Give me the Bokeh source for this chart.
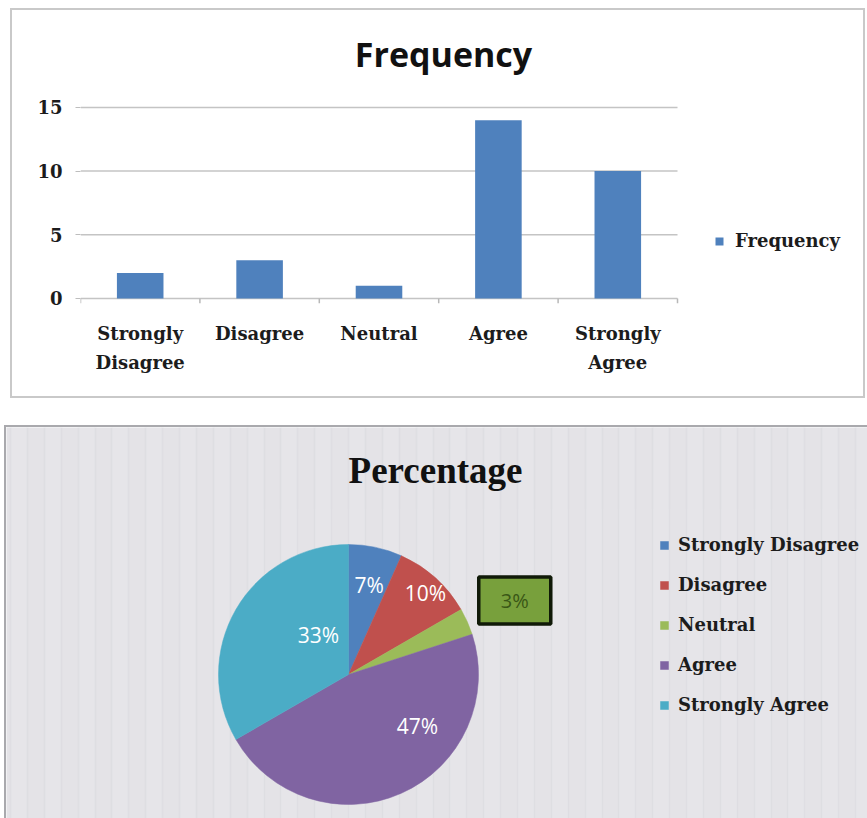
import math

from bokeh.core.properties import value
from bokeh.embed import file_html
from bokeh.models import (ColumnDataSource, FixedTicker, Grid, InlineStyleSheet,
                          Label, Legend, LegendItem, LinearAxis, Range1d,
                          SingleIntervalTicker)
from bokeh.plotting import figure
from bokeh.resources import INLINE

# ---- data -------------------------------------------------------------
categories = ["Strongly Disagree", "Disagree", "Neutral", "Agree", "Strongly Agree"]
frequency = [2, 3, 1, 14, 10]
y_ticks = [0, 5, 10, 15]
# two-line category labels: (first line, second line)
category_lines = {
    "Strongly Disagree": ("Strongly", "Disagree"),
    "Disagree": ("Disagree", ""),
    "Neutral": ("Neutral", ""),
    "Agree": ("Agree", ""),
    "Strongly Agree": ("Strongly", "Agree"),
}
slice_colors = ["#4f81bd", "#c0504d", "#9bbb59", "#8064a2", "#4bacc6"]

# placement of each percentage label: (clockwise angle from 12 o'clock in
# degrees, distance from centre as a fraction of the radius, boxed callout?)
label_placement = [(13, 0.71, False), (43.5, 0.86, False), (None, 1.40, True),
                   (126.5, 0.66, False), (323, 0.385, False)]

SERIF = "DejaVu Serif"
SANS = "Open Sans"
TEXT_DARK = "#1c1c1c"
SERIF_SIZE = "18px"

# ---- bar chart ----------------------------------------------------------
W1, H1 = 851, 386
LEFT1, BOTTOM1 = 68, 93            # room for the axes
CAT_PX = 119.4                     # width of one category slot, px
UNIT_PX = 12.733                   # px per frequency unit
n = len(categories)
centers = [i + 0.5 for i in range(n)]
frame_w = W1 - LEFT1
frame_h = H1 - BOTTOM1
y_start = -0.4

p1 = figure(x_range=Range1d(0, frame_w / CAT_PX),
            y_range=Range1d(y_start, y_start + frame_h / UNIT_PX),
            width=W1, height=H1, output_backend="svg", toolbar_location=None,
            min_border_left=LEFT1, min_border_right=0, min_border_top=0,
            min_border_bottom=BOTTOM1, background_fill_color="white",
            border_fill_color="white", outline_line_color=None)
p1.margin = (10, 4, 0, 12)
p1.stylesheets = [InlineStyleSheet(css=":host { outline: 2px solid #c9c9c9; }")]
p1.grid.visible = False

# horizontal value lines across the category area
p1.segment(x0=[0] * len(y_ticks), x1=[n] * len(y_ticks), y0=y_ticks, y1=y_ticks,
           line_color="#c4c4c4", line_width=1.5)
# category boundary tick marks under the zero line
bounds = list(range(n + 1))
p1.segment(x0=bounds, y0=[0] * len(bounds), x1=bounds, y1=[y_start] * len(bounds),
           line_color="#b8b8b8", line_width=1.5)

bars = p1.vbar(x=centers, top=frequency, width=0.39,
               fill_color="#4f81bd", line_color=None)

ya = p1.yaxis[0]
ya.ticker = FixedTicker(ticks=y_ticks)
ya.axis_line_color = None
ya.major_tick_line_color = "#bdbdbd"
ya.major_tick_out = 5
ya.major_tick_in = 0
ya.minor_tick_line_color = None
ya.major_label_standoff = 13
ya.major_label_text_font = SERIF
ya.major_label_text_font_style = "bold"
ya.major_label_text_font_size = SERIF_SIZE
ya.major_label_text_color = TEXT_DARK


def style_cat_axis(ax, line_no, standoff):
    ax.ticker = FixedTicker(ticks=centers)
    ax.major_label_overrides = {c: category_lines[cat][line_no]
                                for c, cat in zip(centers, categories)}
    ax.axis_line_color = None
    ax.major_tick_line_color = None
    ax.minor_tick_line_color = None
    ax.major_tick_out = 0
    ax.major_tick_in = 0
    ax.major_label_standoff = standoff
    ax.major_label_text_font = SERIF
    ax.major_label_text_font_style = "bold"
    ax.major_label_text_font_size = SERIF_SIZE
    ax.major_label_text_color = TEXT_DARK


style_cat_axis(p1.xaxis[0], 0, 19)
second_line = LinearAxis()
style_cat_axis(second_line, 1, 5)
p1.add_layout(second_line, "below")

p1.add_layout(Label(x=363, y=250, x_units="screen", y_units="screen",
                    text="Frequency", text_font=SANS, text_font_style="bold",
                    text_font_size="34px", text_align="center",
                    text_baseline="alphabetic", text_color="#111111"))

bar_legend = Legend(items=[LegendItem(label="Frequency", renderers=[bars])],
                    location=(634, 52), padding=0, margin=0, spacing=0,
                    glyph_width=10, glyph_height=10, label_height=20,
                    label_standoff=11, border_line_color=None,
                    background_fill_alpha=0,
                    label_text_font=SERIF, label_text_font_style="bold",
                    label_text_font_size=SERIF_SIZE, label_text_color=TEXT_DARK)
p1.add_layout(bar_legend)

# ---- pie chart ----------------------------------------------------------
W2, H2 = 861, 391
CX, CY, R = 342, 247, 130          # pie centre (from top-left) and radius, px
p2 = figure(width=W2, height=H2, output_backend="svg", toolbar_location=None,
            x_range=Range1d(-CX / R, (W2 - CX) / R),
            y_range=Range1d(-(H2 - CY) / R, CY / R),
            x_axis_type=None, y_axis_type=None, min_border=0,
            background_fill_color="#e4e3e7", border_fill_color="#e4e3e7",
            outline_line_color=None)
p2.margin = (31, 0, 0, 6)
p2.stylesheets = [InlineStyleSheet(css=":host { outline: 2px solid #a9a9ad; }")]
p2.grid.visible = False
p2.add_layout(Grid(dimension=0, ticker=SingleIntervalTicker(interval=0.13),
                   grid_line_color="#dbdadf", grid_line_width=1.5,
                   grid_line_alpha=0.6, band_fill_color="#e8e7eb",
                   band_fill_alpha=0.5))

total = sum(frequency)
fractions = [f / total for f in frequency]
cum = [sum(fractions[:i]) for i in range(len(fractions) + 1)]
start = [math.pi / 2 - 2 * math.pi * cum[i + 1] for i in range(len(fractions))]
end = [math.pi / 2 - 2 * math.pi * cum[i] for i in range(len(fractions))]
pct_text = [f"{round(100 * f)}%" for f in fractions]

src = ColumnDataSource(dict(category=categories, start=start, end=end,
                            color=slice_colors))
wedges = p2.wedge(x=0, y=0, radius=1, start_angle="start", end_angle="end",
                  direction="anticlock", fill_color="color", line_color="color",
                  line_width=0.5, source=src)

in_x, in_y, in_t = [], [], []
box_x, box_y, box_t = [], [], []
for i, (ang, rad, boxed) in enumerate(label_placement):
    if ang is None:
        ang = 360 * (cum[i] + cum[i + 1]) / 2
    a = math.radians(ang)
    px, py = rad * math.sin(a), rad * math.cos(a)
    if boxed:
        box_x.append(px); box_y.append(py); box_t.append(pct_text[i])
    else:
        in_x.append(px); in_y.append(py); in_t.append(pct_text[i])

p2.text(x=in_x, y=in_y, text=in_t, text_font=value(SANS), text_font_size="21px",
        text_color="#ffffff", text_align="center", text_baseline="middle")
p2.rect(x=box_x, y=box_y, width=72, height=47, width_units="screen",
        height_units="screen", fill_color="#78a03c", line_color="#101a08",
        line_width=3.5)
p2.text(x=box_x, y=box_y, text=box_t, text_font=value(SANS), text_font_size="20px",
        text_color="#3a5716", text_align="center", text_baseline="middle")

p2.add_layout(Label(x=429, y=348, x_units="screen", y_units="screen",
                    text="Percentage", text_font="Liberation Serif",
                    text_font_style="bold", text_font_size="37px",
                    text_align="center", text_baseline="alphabetic",
                    text_color="#111111"))

pie_items = [LegendItem(label=c, renderers=[wedges], index=i)
             for i, c in enumerate(categories)]
pie_legend = Legend(items=pie_items, location=(653, 103), padding=0, margin=0,
                    spacing=19, glyph_width=10, glyph_height=10, label_height=20,
                    label_standoff=9, border_line_color=None,
                    background_fill_alpha=0,
                    label_text_font=SERIF, label_text_font_style="bold",
                    label_text_font_size=SERIF_SIZE, label_text_color=TEXT_DARK)
p2.add_layout(pie_legend)

open("out.html", "w").write(file_html([p1, p2], INLINE))
